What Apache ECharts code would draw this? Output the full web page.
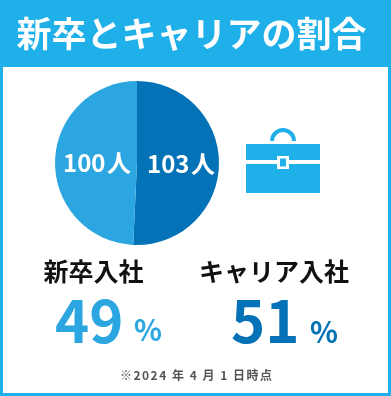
<!DOCTYPE html>
<html lang="ja">
<head>
<meta charset="utf-8">
<style>
  html, body { margin: 0; padding: 0; background: #fff; }
  #chart { width: 391px; height: 396px; }
</style>
<script src="https://cdn.jsdelivr.net/npm/echarts@6/dist/echarts.min.js"></script>
</head>
<body>
<div id="chart"></div>
<script>
const categories = ['キャリア入社', '新卒入社'];
const headcounts = [103, 100];
const percents = [51, 49];
const sliceColors = ['#0472b6', '#2ca6e0'];

const FONT = '"Noto Sans CJK JP", "Noto Sans", sans-serif';
const FRAME = '#1fb0ea';

const chart = echarts.init(document.getElementById('chart'), null, { renderer: 'canvas' });

function text(x, y, str, size, color, weight, align) {
  return {
    type: 'text',
    x, y,
    style: {
      text: str,
      font: `${weight} ${size}px ${FONT}`,
      fill: color,
      align: align || 'center',
      verticalAlign: 'middle'
    }
  };
}

function rect(x, y, width, height, fill) {
  return { type: 'rect', shape: { x, y, width, height }, style: { fill } };
}

// canvas text has no tracking here, hair spaces give the footnote its wide look
const footnote = Array.from('※2024 年 4 月 1 日時点').join('\u200a\u200a');

const graphics = [
  // Frame and header band
  { type: 'rect', z: -1, shape: { x: 1.5, y: 1.5, width: 388, height: 393 }, style: { fill: '#fff', stroke: FRAME, lineWidth: 3 } },
  rect(0, 0, 391, 67, FRAME),
  text(191.5, 34, '新卒とキャリアの割合', 35, '#fff', 700),

  // Briefcase icon
  {
    type: 'arc',
    shape: { cx: 283, cy: 141, r: 11, startAngle: Math.PI, endAngle: 0, clockwise: true },
    style: { fill: 'none', stroke: FRAME, lineWidth: 4 }
  },
  rect(246, 144, 74, 49, FRAME),
  rect(246, 160, 74, 4, '#fff'),
  rect(277, 156, 12, 13, '#fff'),
  rect(280, 158.5, 6, 8, FRAME),

  // Captions under the pie
  text(93.5, 271, categories[1], 25, '#111', 700),
  text(274, 271, categories[0], 25, '#111', 700),
  text(55, 321, String(percents[1]), 58, sliceColors[1], 700, 'left'),
  text(134, 330, '%', 29, sliceColors[1], 700, 'left'),
  text(231, 321, String(percents[0]), 58, sliceColors[0], 700, 'left'),
  text(310, 332, '%', 29, sliceColors[0], 700, 'left'),
  text(196, 375, footnote, 12, '#555', 700)
];

chart.setOption({
  animation: false,
  graphic: { elements: graphics },
  series: [{
    type: 'pie',
    center: [137, 163],
    radius: [0, 82],
    startAngle: 90,
    clockwise: true,
    silent: true,
    labelLine: { show: false },
    label: {
      show: true,
      position: 'inside',
      color: '#fff',
      fontFamily: FONT,
      fontSize: 24,
      fontWeight: 700,
      formatter: p => `${p.value}\u200a人`
    },
    data: categories.map((name, i) => ({
      name,
      value: headcounts[i],
      itemStyle: { color: sliceColors[i] },
      label: i === 1 ? { offset: [4, 1] } : {}
    }))
  }]
});
</script>
</body>
</html>
